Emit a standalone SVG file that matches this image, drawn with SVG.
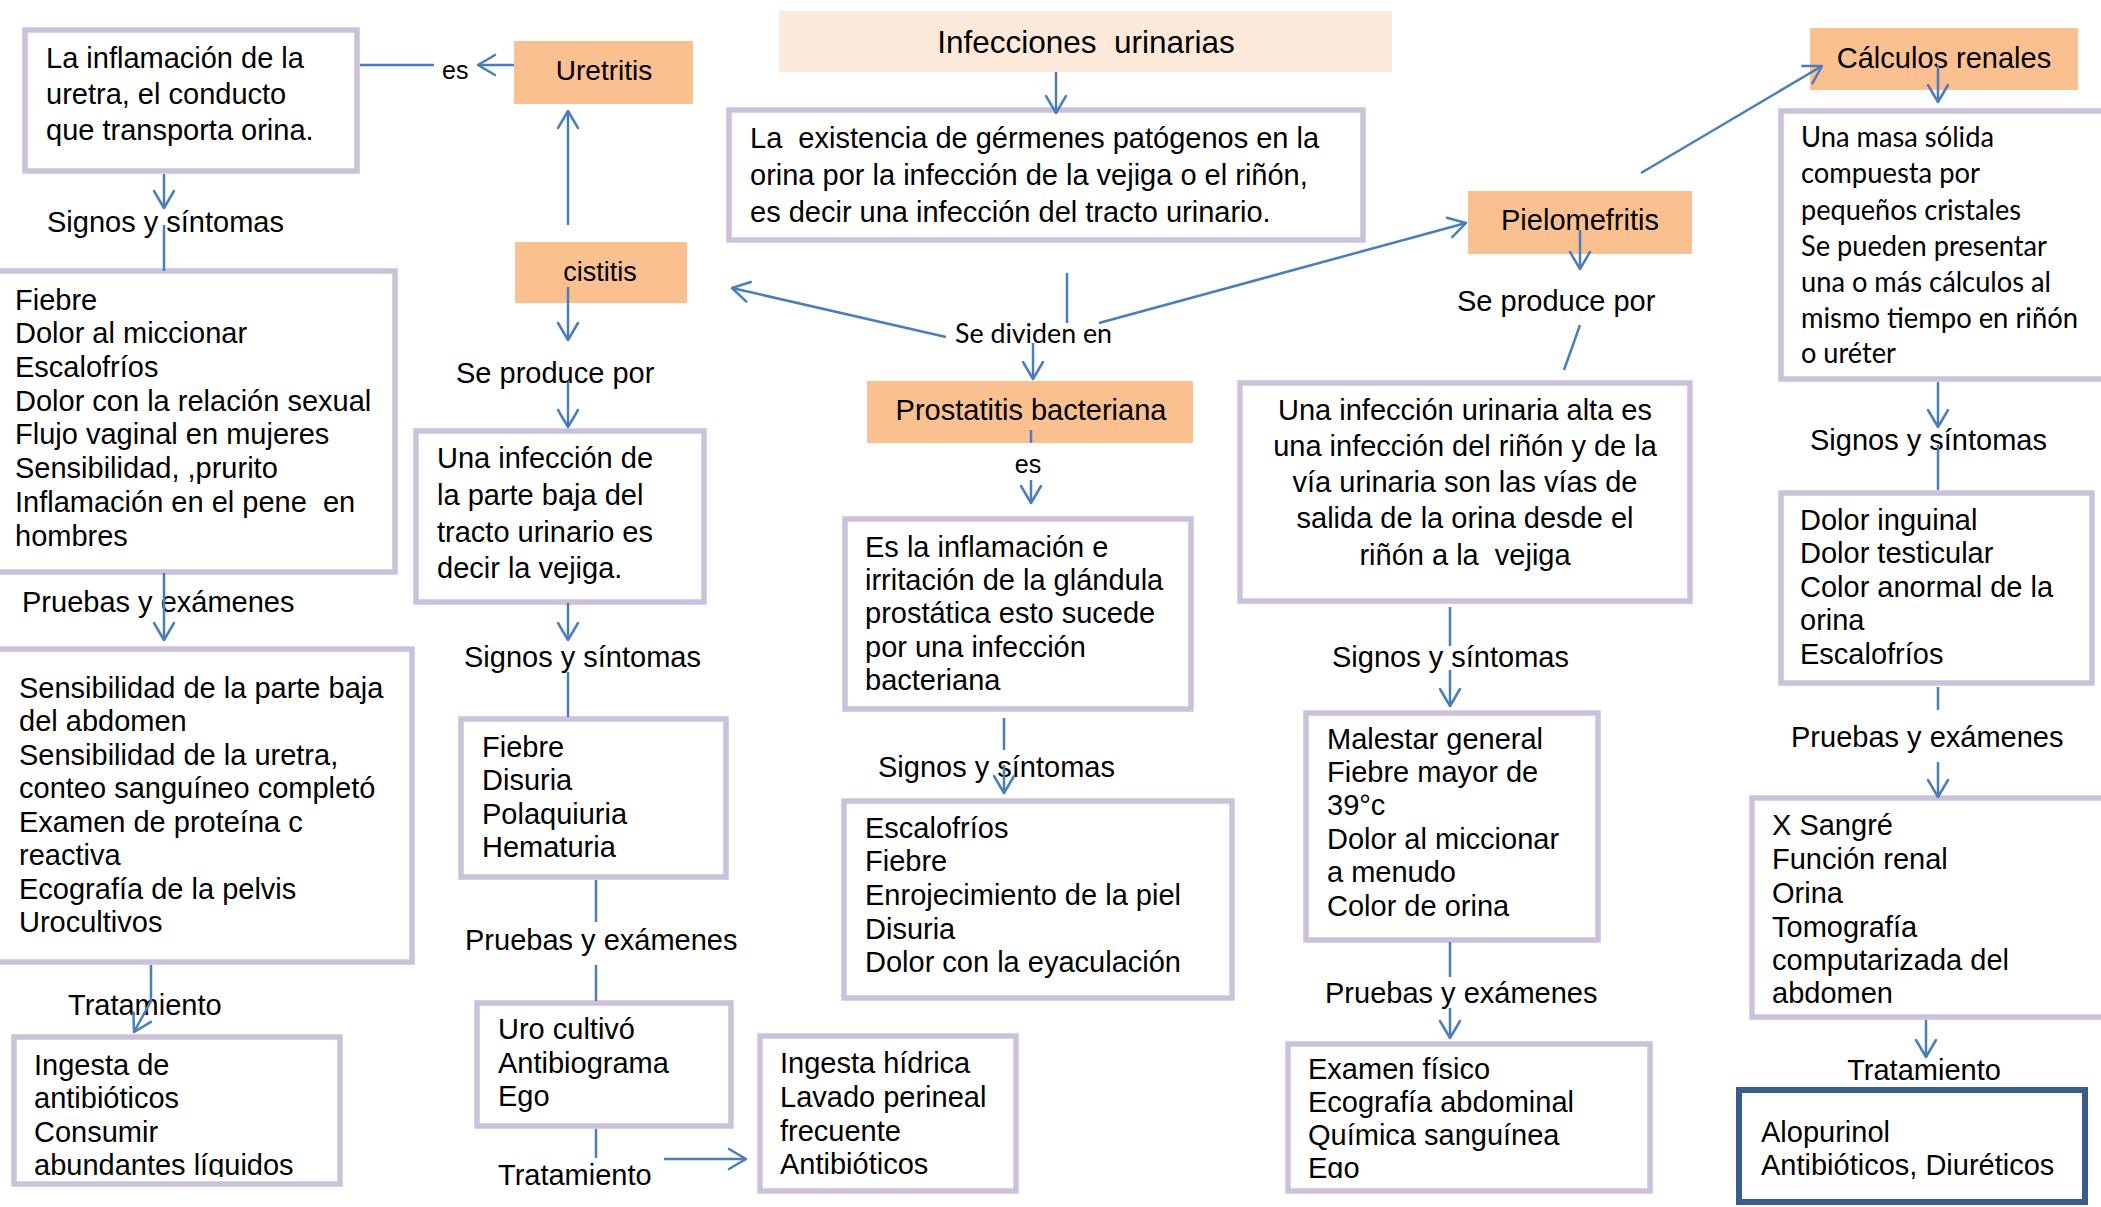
<svg xmlns="http://www.w3.org/2000/svg" width="2101" height="1207" viewBox="0 0 2101 1207">
<style>
text{font-family:"Liberation Sans",Arial,sans-serif;font-size:29px;fill:#000;white-space:pre}
.c{font-family:Lato,"Liberation Sans",sans-serif;font-size:28px}
.m{text-anchor:middle}
.box{fill:#fff;stroke:#CCC1DA;stroke-width:5.5}
.org{fill:#FAC090}
.ln{fill:none;stroke:#4A7EBB;stroke-width:2.5}
.ar{marker-end:url(#ah)}
</style>
<defs>
<marker id="ah" markerUnits="userSpaceOnUse" viewBox="-20 -12 22 24" markerWidth="22" markerHeight="24" refX="0" refY="0" orient="auto" overflow="visible">
<path d="M-17,-10 L0,0 L-17,10" fill="none" stroke="#4A7EBB" stroke-width="2.5" stroke-linecap="round" stroke-linejoin="round"/>
</marker>
<clipPath id="cpN"><rect x="0" y="1030" width="400" height="147"/></clipPath>
<clipPath id="cpI"><rect x="1280" y="1040" width="400" height="138"/></clipPath>
</defs>
<rect width="2101" height="1207" fill="#fff"/>

<g id="title"><rect x="779" y="11" width="613" height="61" fill="#FDE9D9"/><text class="m" x="1086" y="53" style="font-size:31.5px">Infecciones  urinarias</text></g>

<g id="def"><rect class="box" x="729" y="110" width="634" height="130"/>
<text x="750" y="148">La  existencia de gérmenes patógenos en la</text>
<text x="750" y="185">orina por la infección de la vejiga o el riñón,</text>
<text x="750" y="222">es decir una infección del tracto urinario.</text></g>

<g id="uretritis"><rect class="org" x="514" y="41" width="179" height="63"/><text class="m" x="604" y="80" style="font-size:28px">Uretritis</text></g>
<g id="uretritis-def"><rect class="box" x="25" y="30" width="332" height="141"/>
<text x="46" y="68">La inflamación de la</text>
<text x="46" y="104">uretra, el conducto</text>
<text x="46" y="140">que transporta orina.</text></g>

<g id="uretritis-sig"><rect class="box" x="-10" y="271" width="405" height="301"/>
<text x="15" y="310">Fiebre</text>
<text x="15" y="343">Dolor al miccionar</text>
<text x="15" y="377">Escalofríos</text>
<text x="15" y="411">Dolor con la relación sexual</text>
<text x="15" y="444">Flujo vaginal en mujeres</text>
<text x="15" y="478">Sensibilidad, ,prurito</text>
<text x="15" y="512">Inflamación en el pene  en</text>
<text x="15" y="546">hombres</text></g>

<g id="uretritis-pru"><rect class="box" x="-10" y="649" width="422" height="313"/>
<text x="19" y="698">Sensibilidad de la parte baja</text>
<text x="19" y="731">del abdomen</text>
<text x="19" y="765">Sensibilidad de la uretra,</text>
<text x="19" y="798">conteo sanguíneo completó</text>
<text x="19" y="832">Examen de proteína c</text>
<text x="19" y="865">reactiva</text>
<text x="19" y="899">Ecografía de la pelvis</text>
<text x="19" y="932">Urocultivos</text></g>

<g id="uretritis-tra"><rect class="box" x="14" y="1037" width="326" height="147"/>
<g clip-path="url(#cpN)">
<text x="34" y="1075">Ingesta de</text>
<text x="34" y="1108">antibióticos</text>
<text x="34" y="1142">Consumir</text>
<text x="34" y="1175">abundantes líquidos</text></g></g>

<g id="cistitis"><rect class="org" x="515" y="242" width="172" height="61"/><text class="m" x="600" y="281" style="font-size:27px">cistitis</text></g>
<g id="cistitis-def"><rect class="box" x="416" y="431" width="288" height="171"/>
<text x="437" y="468">Una infección de</text>
<text x="437" y="505">la parte baja del</text>
<text x="437" y="542">tracto urinario es</text>
<text x="437" y="578">decir la vejiga.</text></g>
<g id="cistitis-sig"><rect class="box" x="461" y="719" width="265" height="158"/>
<text x="482" y="757">Fiebre</text>
<text x="482" y="790">Disuria</text>
<text x="482" y="824">Polaquiuria</text>
<text x="482" y="857">Hematuria</text></g>
<g id="cistitis-pru"><rect class="box" x="477" y="1003" width="254" height="123"/>
<text x="498" y="1039">Uro cultivó</text>
<text x="498" y="1073">Antibiograma</text>
<text x="498" y="1106">Ego</text></g>
<g id="cistitis-tra"><rect class="box" x="760" y="1036" width="256" height="155"/>
<text x="780" y="1073">Ingesta hídrica</text>
<text x="780" y="1107">Lavado perineal</text>
<text x="780" y="1141">frecuente</text>
<text x="780" y="1174">Antibióticos</text></g>

<g id="prostatitis"><rect class="org" x="867" y="381" width="326" height="62"/><text class="m" x="1031" y="420">Prostatitis bacteriana</text></g>
<g id="prostatitis-def"><rect class="box" x="845" y="519" width="346" height="190"/>
<text x="865" y="557">Es la inflamación e</text>
<text x="865" y="590">irritación de la glándula</text>
<text x="865" y="623">prostática esto sucede</text>
<text x="865" y="657">por una infección</text>
<text x="865" y="690">bacteriana</text></g>
<g id="prostatitis-sig"><rect class="box" x="844" y="801" width="388" height="197"/>
<text x="865" y="838">Escalofríos</text>
<text x="865" y="871">Fiebre</text>
<text x="865" y="905">Enrojecimiento de la piel</text>
<text x="865" y="939">Disuria</text>
<text x="865" y="972">Dolor con la eyaculación</text></g>

<g id="pielo"><rect class="org" x="1468" y="191" width="224" height="63"/><text class="m" x="1580" y="230">Pielomefritis</text></g>
<g id="pielo-def"><rect class="box" x="1240" y="383" width="450" height="218"/>
<text class="m" x="1465" y="420">Una infección urinaria alta es</text>
<text class="m" x="1465" y="456">una infección del riñón y de la</text>
<text class="m" x="1465" y="492">vía urinaria son las vías de</text>
<text class="m" x="1465" y="528">salida de la orina desde el</text>
<text class="m" x="1465" y="565">riñón a la  vejiga</text></g>
<g id="pielo-sig"><rect class="box" x="1306" y="713" width="292" height="227"/>
<text x="1327" y="749">Malestar general</text>
<text x="1327" y="782">Fiebre mayor de</text>
<text x="1327" y="815">39°c</text>
<text x="1327" y="849">Dolor al miccionar</text>
<text x="1327" y="882">a menudo</text>
<text x="1327" y="916">Color de orina</text></g>
<g id="pielo-pru"><rect class="box" x="1288" y="1044" width="362" height="147"/>
<g clip-path="url(#cpI)">
<text x="1308" y="1079">Examen físico</text>
<text x="1308" y="1112">Ecografía abdominal</text>
<text x="1308" y="1145">Química sanguínea</text>
<text x="1308" y="1178">Ego</text></g></g>

<g id="calculos"><rect class="org" x="1810" y="28" width="268" height="62"/><text class="m" x="1944" y="68">Cálculos renales</text></g>
<g id="calculos-def"><rect class="box" x="1781" y="111" width="340" height="268"/>
<text class="c" x="1801" y="147" textLength="193" lengthAdjust="spacingAndGlyphs">Una masa sólida</text>
<text class="c" x="1801" y="183" textLength="179" lengthAdjust="spacingAndGlyphs">compuesta por</text>
<text class="c" x="1801" y="220" textLength="220" lengthAdjust="spacingAndGlyphs">pequeños cristales</text>
<text class="c" x="1801" y="256" textLength="246" lengthAdjust="spacingAndGlyphs">Se pueden presentar</text>
<text class="c" x="1801" y="292" textLength="250" lengthAdjust="spacingAndGlyphs">una o más cálculos al</text>
<text class="c" x="1801" y="328" textLength="277" lengthAdjust="spacingAndGlyphs">mismo tiempo en riñón</text>
<text class="c" x="1801" y="363" textLength="95" lengthAdjust="spacingAndGlyphs">o uréter</text></g>
<g id="calculos-sig"><rect class="box" x="1781" y="493" width="311" height="190"/>
<text x="1800" y="530">Dolor inguinal</text>
<text x="1800" y="563">Dolor testicular</text>
<text x="1800" y="597">Color anormal de la</text>
<text x="1800" y="630">orina</text>
<text x="1800" y="664">Escalofríos</text></g>
<g id="calculos-pru"><rect class="box" x="1752" y="798" width="370" height="219"/>
<text x="1772" y="835">X Sangré</text>
<text x="1772" y="869">Función renal</text>
<text x="1772" y="903">Orina</text>
<text x="1772" y="937">Tomografía</text>
<text x="1772" y="970">computarizada del</text>
<text x="1772" y="1003">abdomen</text></g>
<g id="calculos-tra"><rect x="1739" y="1090" width="346" height="112" fill="#fff" stroke="#385D8A" stroke-width="6"/>
<text x="1761" y="1142">Alopurinol</text>
<text x="1761" y="1175">Antibióticos, Diuréticos</text></g>

<g id="labels">
<text x="442" y="79" style="font-size:25px">es</text>
<text x="47" y="232">Signos y síntomas</text>
<text x="22" y="612">Pruebas y exámenes</text>
<text x="68" y="1015">Tratamiento</text>
<text x="456" y="383">Se produce por</text>
<text x="464" y="667">Signos y síntomas</text>
<text x="465" y="950">Pruebas y exámenes</text>
<text x="498" y="1185">Tratamiento</text>
<text class="c" x="955" y="343" textLength="157" lengthAdjust="spacingAndGlyphs" style="font-size:26px">Se dividen en</text>
<text class="m" x="1028" y="473" style="font-size:25px">es</text>
<text x="878" y="777">Signos y síntomas</text>
<text x="1457" y="311">Se produce por</text>
<text x="1332" y="667">Signos y síntomas</text>
<text x="1325" y="1003">Pruebas y exámenes</text>
<text x="1810" y="450">Signos y síntomas</text>
<text x="1791" y="747">Pruebas y exámenes</text>
<text class="m" x="1924" y="1080">Tratamiento</text>
</g>

<g id="connectors">
<path class="ln" d="M360,65 H434"/>
<path class="ln ar" d="M514,65 H478"/>
<path class="ln ar" d="M568,225 V111"/>
<path class="ln ar" d="M164,174 V208"/>
<path class="ln" d="M164,225 V271"/>
<path class="ln ar" d="M164,573 V640"/>
<path class="ln ar" d="M151,965 V1001 L134,1032"/>
<path class="ln ar" d="M568,287 V340"/>
<path class="ln ar" d="M568,382 V427"/>
<path class="ln ar" d="M568,603 V640"/>
<path class="ln" d="M568,672 V717"/>
<path class="ln" d="M596,880 V922"/>
<path class="ln" d="M596,965 V1001"/>
<path class="ln" d="M596,1129 V1158"/>
<path class="ln ar" d="M664,1159 H746"/>
<path class="ln ar" d="M1056,72 V113"/>
<path class="ln" d="M1067,273 V323"/>
<path class="ln ar" d="M946,337 L732,288"/>
<path class="ln ar" d="M1099,323 L1466,223"/>
<path class="ln ar" d="M1033,343 V379"/>
<path class="ln" d="M1031,430 V443"/>
<path class="ln ar" d="M1031,480 V503"/>
<path class="ln" d="M1004,718 V750"/>
<path class="ln ar" d="M1004,765 V793"/>
<path class="ln ar" d="M1641,173 L1822,66"/>
<path class="ln ar" d="M1580,230 V269"/>
<path class="ln" d="M1580,325 L1564,370"/>
<path class="ln" d="M1450,607 V646"/>
<path class="ln ar" d="M1450,670 V706"/>
<path class="ln" d="M1450,942 V977"/>
<path class="ln ar" d="M1450,1008 V1038"/>
<path class="ln ar" d="M1938,65 V102"/>
<path class="ln ar" d="M1938,382 V427"/>
<path class="ln" d="M1938,445 V490"/>
<path class="ln" d="M1938,687 V710"/>
<path class="ln ar" d="M1938,762 V797"/>
<path class="ln ar" d="M1926,1020 V1057"/>
</g>
</svg>
